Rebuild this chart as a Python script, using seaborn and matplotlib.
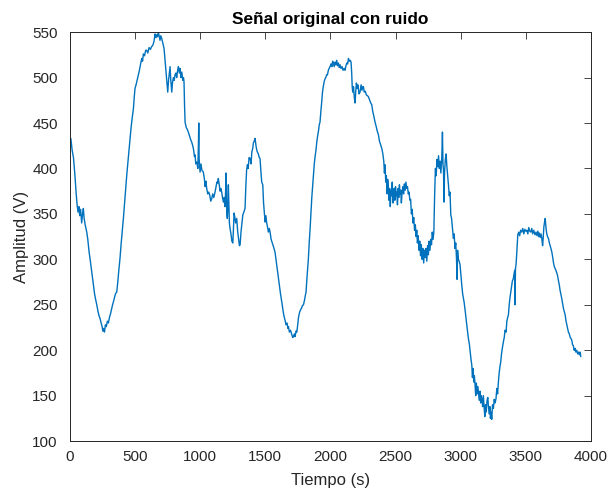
import matplotlib
matplotlib.use("Agg")
import matplotlib.pyplot as plt
import seaborn as sns
import pandas as pd

# (tiempo s, amplitud V), in segments
tramo_1 = [(0,430),(10,433),(20,420),(30,412),(40,395),(50,374),(58,360),(65,352),(72,358),(78,348),(85,355),(93,340),(100,350),(106,356),(112,345),(120,338),(132,330),(140,322),(150,308),(157,301),(165,292),(175,280),(183,272),(192,262),(200,256),(209,250),(218,243),(226,238),(234,235),(242,230),(250,226),(256,221),(262,224),(268,220),(275,228),(282,226),(290,232),(298,230),(306,236),(314,240),(322,245),(330,250),(336,253),(345,258),(352,262),(362,264),(370,275),(378,288),(387,301),(395,316),(404,330),(413,345),(420,358),(428,372),(439,393),(448,408),(456,420),(464,433),(472,445),(480,455),(490,466),(496,478),(502,488),(510,492),(518,497),(528,503),(536,508),(545,515),(554,521),(560,518),(566,526),(575,524),(584,530),(592,530),(600,527),(610,533),(620,531),(630,534),(640,536),(648,540),(656,548),(662,544),(668,547),(675,545),(681,550),(687,546),(694,541),(700,546),(707,543),(715,538),(725,532),(732,520),(740,506),(746,496),(753,484),(760,498),(766,506),(771,512),(776,498),(784,484),(790,495),(797,500),(803,497),(809,503),(816,505),(822,500),(829,508),(835,512),(842,505),(848,510),(855,500),(861,506),(868,497),(874,500),(878,495),(882,470),(886,451)]
tramo_2 = [(895,445),(903,443),(911,440),(920,436),(928,432),(937,429),(945,425),(952,420),(958,413),(963,415),(968,405),(976,407),(984,400),(989,430),(991,450),(994,410),(1001,396),(1008,405),(1015,398),(1026,396),(1033,390),(1040,380),(1046,386),(1052,378),(1060,372),(1068,374),(1076,370),(1083,364),(1091,367),(1098,372),(1106,368),(1116,374),(1124,380),(1130,385),(1136,384),(1141,389),(1148,382),(1155,375),(1160,378),(1167,374),(1173,368),(1180,363),(1186,368),(1192,358),(1197,375),(1200,395),(1203,370),(1206,352),(1210,345),(1214,358),(1218,382),(1222,360),(1226,340),(1231,334),(1238,328),(1245,320),(1252,318),(1256,330),(1262,351),(1268,346),(1274,340),(1282,345),(1290,330),(1297,322),(1303,315),(1308,316),(1315,330),(1322,340),(1329,349),(1337,352),(1346,356),(1352,380),(1358,398),(1364,404),(1370,400),(1377,412),(1385,411),(1392,405),(1398,418),(1405,422),(1410,428),(1416,430),(1423,433),(1430,425),(1436,420),(1441,418),(1448,416),(1455,412),(1461,411),(1467,398),(1474,385),(1482,382),(1488,362),(1494,352),(1500,341),(1506,348),(1512,340),(1518,336),(1525,330),(1532,334),(1538,330),(1546,322),(1555,318),(1564,314),(1576,308),(1585,298),(1594,288),(1602,279),(1610,270),(1618,262),(1628,253),(1636,245),(1644,238),(1653,233),(1660,228),(1668,230),(1675,224),(1679,226),(1686,220),(1695,222),(1705,217),(1712,214),(1717,215),(1724,218),(1730,215),(1737,221),(1743,220),(1750,228),(1756,236),(1763,241),(1770,244),(1778,246),(1786,249),(1794,250),(1802,255),(1808,260),(1814,264)]
tramo_3 = [(1820,278),(1826,290),(1832,301),(1838,318),(1845,334),(1852,352),(1858,368),(1864,380),(1870,393),(1877,405),(1884,414),(1890,420),(1896,429),(1903,436),(1910,442),(1915,448),(1921,451),(1927,462),(1934,473),(1940,484),(1946,490),(1952,495),(1958,498),(1965,500),(1972,503),(1978,503),(1985,508),(1991,510),(1998,512),(2005,515),(2012,512),(2018,518),(2023,516),(2030,512),(2036,517),(2042,514),(2049,519),(2055,513),(2062,516),(2069,511),(2075,514),(2082,510),(2090,512),(2098,508),(2106,510),(2113,508),(2120,513),(2127,516),(2133,515),(2139,521),(2146,518),(2153,519),(2159,517),(2164,505),(2168,490),(2172,484),(2178,490),(2184,478),(2190,472),(2195,485),(2200,494),(2206,488),(2212,492),(2220,482),(2228,484),(2236,492),(2243,486),(2249,490),(2254,490),(2260,484),(2268,485),(2276,481),(2285,480),(2292,479),(2300,476),(2310,472),(2318,470),(2325,463),(2333,458),(2343,451),(2352,446),(2360,441),(2369,437),(2377,430),(2386,426),(2395,422),(2403,416),(2410,408),(2415,395),(2420,404),(2425,385),(2430,392),(2435,372),(2440,388),(2445,380),(2450,365),(2455,378),(2460,358),(2465,376),(2470,370),(2475,385),(2480,362),(2485,372),(2490,378),(2495,365),(2500,380),(2505,370),(2510,374),(2515,360),(2520,378),(2525,368),(2530,382),(2535,372),(2540,376),(2545,362),(2550,373),(2556,380),(2562,372),(2568,383),(2574,376),(2580,385),(2586,378),(2592,380),(2598,372),(2604,374),(2610,365),(2616,366),(2622,350),(2628,355),(2634,340),(2640,346),(2646,332),(2652,338),(2658,325),(2663,332),(2668,318),(2674,326),(2680,310),(2686,320),(2692,304),(2698,316),(2704,300),(2710,312),(2716,296),(2722,310),(2728,302),(2734,312),(2740,298),(2746,315),(2752,305),(2758,320),(2764,310),(2770,322),(2776,316),(2782,330),(2788,322),(2794,330)]
tramo_4 = [(2800,370),(2806,400),(2812,392),(2818,410),(2824,402),(2830,414),(2836,400),(2842,408),(2848,395),(2855,412),(2860,440),(2864,405),(2868,398),(2872,363),(2876,395),(2882,410),(2888,416),(2894,402),(2900,392),(2906,382),(2912,370),(2918,374),(2924,349),(2930,345),(2936,336),(2944,323),(2950,328),(2956,312),(2962,318),(2968,300),(2972,278),(2976,310),(2982,300),(2988,298),(2995,294),(3002,282),(3008,272),(3015,262),(3020,258),(3026,253),(3033,245),(3040,236),(3047,228),(3053,220),(3060,212),(3067,206),(3073,198),(3079,190),(3085,184),(3090,170),(3095,180),(3100,165),(3105,172),(3110,162),(3115,150),(3120,164),(3126,152),(3132,160),(3136,154),(3142,145),(3148,155),(3153,142),(3158,150),(3162,147),(3168,138),(3174,150),(3180,136),(3185,127),(3190,140),(3196,132),(3202,145),(3208,148),(3212,140),(3218,130),(3224,138),(3228,125),(3233,132),(3238,124),(3244,140),(3251,136),(3257,146),(3264,142),(3271,147),(3277,158),(3283,152),(3289,165),(3295,175),(3301,182),(3307,187),(3313,196),(3320,203),(3327,209),(3334,214),(3340,222),(3348,220),(3354,232),(3360,236),(3366,239),(3372,250),(3378,258),(3384,264),(3390,270),(3396,276),(3404,279),(3410,285),(3414,288),(3417,250),(3420,290),(3425,295),(3430,308),(3434,318),(3438,327)]
tramo_5 = [(3445,330),(3452,326),(3460,332),(3468,330),(3476,334),(3484,328),(3492,333),(3500,331),(3507,332),(3515,328),(3522,335),(3530,331),(3538,330),(3545,334),(3552,328),(3560,332),(3570,327),(3578,330),(3585,326),(3592,331),(3598,325),(3603,329),(3610,324),(3616,328),(3622,323),(3628,315),(3632,322),(3638,336),(3642,340),(3648,345),(3654,335),(3660,328),(3666,325),(3673,323),(3680,318),(3686,315),(3692,312),(3699,308),(3706,302),(3712,296),(3718,292),(3724,290),(3730,288),(3737,285),(3743,282),(3749,277),(3756,272),(3762,266),(3768,262),(3775,257),(3781,252),(3788,246),(3795,242),(3801,239),(3808,232),(3814,228),(3820,224),(3826,220),(3833,218),(3840,214),(3846,213),(3852,211),(3858,206),(3864,205),(3870,200),(3877,202),(3883,198),(3890,200),(3897,196),(3903,198),(3910,195),(3916,198),(3921,193)]

x_ticks = [0, 500, 1000, 1500, 2000, 2500, 3000, 3500, 4000]
y_ticks = [100, 150, 200, 250, 300, 350, 400, 450, 500, 550]

puntos = tramo_1 + tramo_2 + tramo_3 + tramo_4 + tramo_5
df = pd.DataFrame(puntos, columns=["Tiempo", "Amplitud"])

sns.set_style("white")
plt.rcParams['font.family'] = ['Liberation Sans', 'DejaVu Sans']

fig = plt.figure(figsize=(6.10, 4.94), dpi=100)
ax = fig.add_axes([0.114, 0.107, 0.855, 0.828])

sns.lineplot(data=df, x="Tiempo", y="Amplitud", ax=ax, color="#0072BD",
             linewidth=1.0, estimator=None, sort=False)

ax.set_xlim(0, 4000)
ax.set_ylim(100, 550)
ax.set_xticks(x_ticks)
ax.set_yticks(y_ticks)
gray = "#262626"
ax.tick_params(direction="in", length=5, width=0.6, colors=gray, labelsize=11,
               top=True, right=True)
ax.tick_params(axis="y", pad=8.5)
ax.tick_params(axis="x", pad=6.5)
for s in ax.spines.values():
    s.set_visible(True)
    s.set_color(gray)
    s.set_linewidth(0.7)

ax.set_xlabel("Tiempo (s)", fontsize=12, color=gray, labelpad=6)
ax.set_ylabel("Amplitud (V)", fontsize=12, color=gray, labelpad=2)
ax.set_title("Señal original con ruido", fontsize=12.4, fontweight="bold",
             color="black", pad=6)

fig.savefig("out.png", dpi=100)
